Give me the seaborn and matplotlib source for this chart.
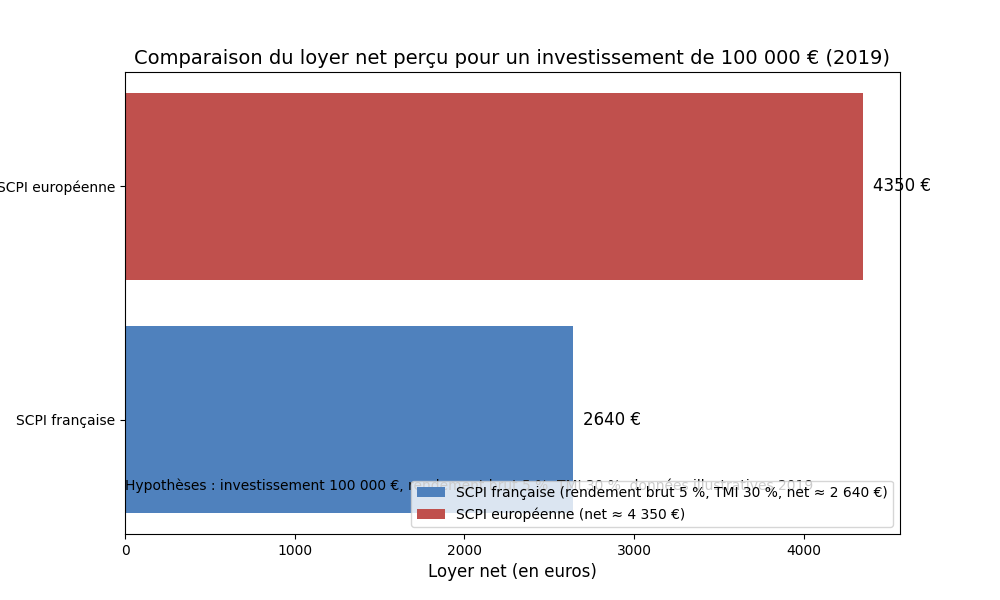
import numpy as np
import pandas as pd
import seaborn as sns
import matplotlib
matplotlib.use('Agg')
import matplotlib.pyplot as plt

# data
categories = ['SCPI française', 'SCPI européenne']
net_rent = [2640, 4350]
legend_labels = ['SCPI française (rendement brut 5 %, TMI 30 %, net ≈ 2 640 €)',
                 'SCPI européenne (net ≈ 4 350 €)']
colors = ['#4f81bd', '#c0504d']

df = pd.DataFrame({'scpi': categories, 'loyer': net_rent, 'label': legend_labels})

fig, ax = plt.subplots(figsize=(10, 6), dpi=100)
sns.barplot(data=df, x='loyer', y='scpi', hue='label', orient='h',
            order=categories[::-1], hue_order=legend_labels,
            palette=colors, width=0.8, saturation=1, ax=ax)

# value labels next to the bars
for cont in ax.containers:
    ax.bar_label(cont, labels=[f'{int(v)} €' for v in cont.datavalues],
                 padding=7, fontsize=12)

ax.set_ylim(1.49, -0.49)
ax.set_xlim(0, max(net_rent) * 1.05)
ax.set_title('Comparaison du loyer net perçu pour un investissement de 100 000 € (2019)',
             fontsize=14)
ax.set_xlabel('Loyer net (en euros)', fontsize=12)
ax.set_ylabel('')

ax.text(0.0, 0.104, 'Hypothèses : investissement 100 000 €, rendement brut 5 %, TMI 30 %, données illustratives 2019',
        transform=ax.transAxes, fontsize=10, va='center', ha='left')

ax.legend(loc='lower right', fontsize=10)

plt.savefig('out.png', dpi=100)
